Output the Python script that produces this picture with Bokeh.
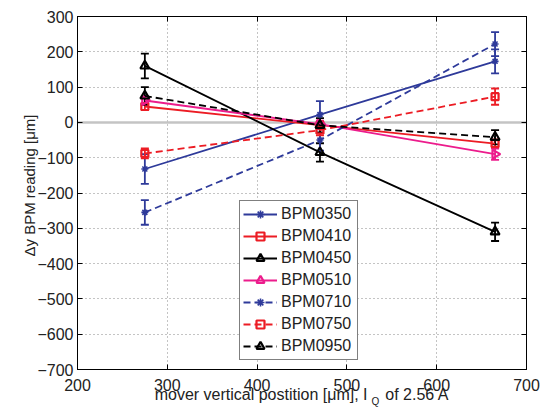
import math
from bokeh.plotting import figure
from bokeh.models import (ColumnDataSource, Whisker, TeeHead, Span, FixedTicker,
                          LinearAxis, Label, Legend)
from bokeh.embed import file_html
from bokeh.resources import INLINE

# ---- data ----
positions = [275, 470, 665]
bpm_names = ["BPM0350", "BPM0410", "BPM0450", "BPM0510", "BPM0710", "BPM0750", "BPM0950"]
bpm0350 = [-132, 22, 173]
bpm0350_err = [42, 38, 34]
bpm0410 = [45, -8, -60]
bpm0410_err = [10, 10, 12]
bpm0450 = [160, -85, -310]
bpm0450_err = [35, 26, 26]
bpm0510 = [62, -5, -90]
bpm0510_err = [12, 10, 16]
bpm0710 = [-255, -50, 222]
bpm0710_err = [35, 30, 34]
bpm0750 = [-88, -22, 73]
bpm0750_err = [14, 15, 23]
bpm0950 = [75, -8, -42]
bpm0950_err = [25, 20, 20]
x_ticks = [200, 300, 400, 500, 600, 700]
y_ticks = [-700, -600, -500, -400, -300, -200, -100, 0, 100, 200, 300]
y_tick_labels = ["\u2212700", "\u2212600", "\u2212500", "\u2212400", "\u2212300", "\u2212200",
                 "\u2212100", "0", "100", "200", "300"]

BLUE = "#2E3A9A"
RED = "#EC1C24"
BLACK = "#000000"
MAGENTA = "#EC1C8C"
FONT = "Liberation Sans"

series = [
    ("BPM0350", bpm0350, bpm0350_err, BLUE, "solid", "asterisk", 0.0),
    ("BPM0410", bpm0410, bpm0410_err, RED, "solid", "square", 0.0),
    ("BPM0450", bpm0450, bpm0450_err, BLACK, "solid", "triangle", 0.0),
    ("BPM0510", bpm0510, bpm0510_err, MAGENTA, "solid", "triangle", -math.pi / 2),
    ("BPM0710", bpm0710, bpm0710_err, BLUE, "7 4", "asterisk", 0.0),
    ("BPM0750", bpm0750, bpm0750_err, RED, "7 4", "square", 0.0),
    ("BPM0950", bpm0950, bpm0950_err, BLACK, "7 4", "triangle", 0.0),
]

p = figure(width=544, height=408, x_range=(200, 700), y_range=(-700, 300),
           output_backend="svg", toolbar_location=None,
           min_border_left=77, min_border_right=18, min_border_top=16, min_border_bottom=39)
p.background_fill_color = "white"
p.border_fill_color = "white"
p.outline_line_color = "black"
p.outline_line_width = 1

for ax in (p.xaxis[0], p.yaxis[0]):
    ax.major_tick_in = 5
    ax.major_tick_out = 0
    ax.minor_tick_in = 0
    ax.minor_tick_out = 0
    ax.axis_line_color = "black"
    ax.major_tick_line_color = "black"
    ax.major_label_text_font = FONT
    ax.major_label_text_font_size = "16px"
    ax.major_label_text_color = "#222222"
p.xaxis.ticker = FixedTicker(ticks=x_ticks)
p.yaxis.ticker = FixedTicker(ticks=y_ticks)
p.yaxis.major_label_overrides = {t: s for t, s in zip(y_ticks, y_tick_labels)}
p.xaxis.major_label_standoff = 9
p.yaxis.major_label_standoff = 4

# x axis label (gap left for the subscript)
p.xaxis.axis_label = "mover vertical postition [\u03bcm], I\u00a0\u00a0\u00a0\u00a0of 2.56 A"
p.xaxis.axis_label_text_font = FONT
p.xaxis.axis_label_text_font_size = "16px"
p.xaxis.axis_label_text_font_style = "normal"
p.xaxis.axis_label_text_color = "#222222"
p.xaxis.axis_label_standoff = -8

# mirror axes (ticks only, empty labels) on right and top
right = LinearAxis(ticker=FixedTicker(ticks=y_ticks), major_tick_in=5, major_tick_out=0,
                   minor_tick_in=0, minor_tick_out=0, major_label_text_font_size="0px",
                   major_label_overrides={t: "" for t in y_ticks},
                   major_label_standoff=0, axis_line_color="black")
top = LinearAxis(ticker=FixedTicker(ticks=x_ticks), major_tick_in=5, major_tick_out=0,
                 minor_tick_in=0, minor_tick_out=0, major_label_text_font_size="0px",
                 major_label_overrides={t: "" for t in x_ticks},
                 major_label_standoff=0, axis_line_color="black")
p.add_layout(right, "right")
p.add_layout(top, "above")

p.grid.grid_line_color = "#888888"
p.grid.grid_line_dash = "1 3"
p.grid.grid_line_width = 1
p.xgrid.ticker = FixedTicker(ticks=x_ticks)
p.ygrid.ticker = FixedTicker(ticks=y_ticks)

zero = Span(location=0, dimension="width", line_color="#C4C4C4", line_width=2.5, level="underlay")
p.add_layout(zero)

items = []
for name, vals, errs, color, dash, marker, ang in series:
    src = ColumnDataSource(dict(x=positions, y=vals,
                                upper=[v + e for v, e in zip(vals, errs)],
                                lower=[v - e for v, e in zip(vals, errs)],
                                ang=[ang] * len(vals)))
    w = Whisker(source=src, base="x", upper="upper", lower="lower", dimension="height",
                line_color=color, line_width=1.8,
                upper_head=TeeHead(size=8, line_color=color, line_width=1.8),
                lower_head=TeeHead(size=8, line_color=color, line_width=1.8))
    p.add_layout(w)
    ln = p.line("x", "y", source=src, line_color=color, line_width=1.8, line_dash=dash)
    size = {"asterisk": 7, "square": 7, "triangle": 9}[marker]
    lw = 1.6 if marker == "asterisk" else 2.2
    sc = p.scatter("x", "y", source=src, marker=marker, size=size, angle="ang",
                   line_color=color, fill_color=None, line_width=lw)
    items.append((name, [ln, sc]))

legend = Legend(items=items, location=(162, 9), orientation="vertical")
legend.label_text_font = FONT
legend.label_text_font_size = "16px"
legend.label_text_color = "#222222"
legend.border_line_color = "black"
legend.border_line_width = 1
legend.background_fill_alpha = 1
legend.padding = 3
legend.spacing = 2
legend.margin = 0
legend.glyph_width = 34
legend.glyph_height = 20
legend.label_height = 20
legend.label_width = 73
legend.label_standoff = 4
p.add_layout(legend, "center")

lab_kw = dict(x_units="screen", y_units="screen", text_font=FONT, text_color="#222222")
# y axis label (side panel on the left, coordinates relative to that panel)
p.add_layout(Label(x=12, y=184, text="\u0394y BPM reading [\u03bcm]", angle=math.pi / 2,
                   text_align="center", text_baseline="middle", text_font_size="15px",
                   **lab_kw), "left")
# subscript of I_Q (outermost left side panel)
p.add_layout(Label(x=362, y=-26, text="Q", text_align="left", text_baseline="top",
                   text_font_size="10px", **lab_kw), "left")

open("out.html", "w").write(file_html(p, INLINE))
